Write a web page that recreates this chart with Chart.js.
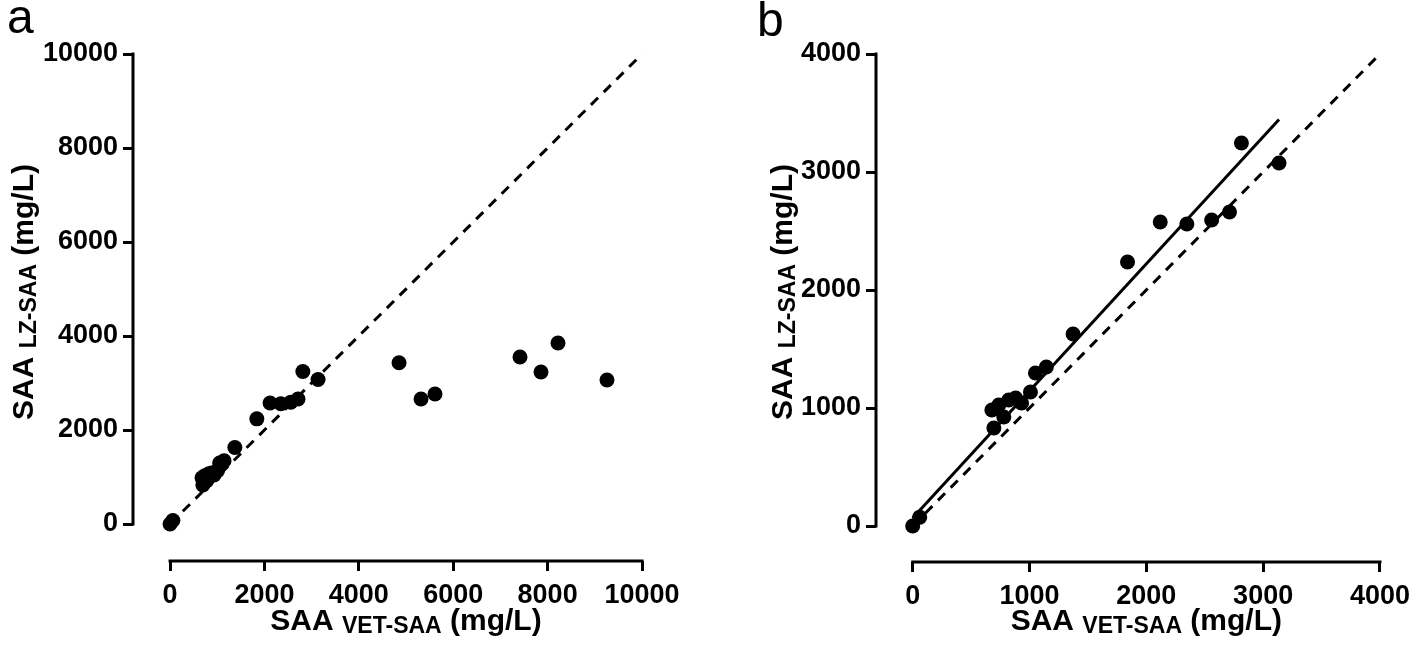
<!DOCTYPE html>
<html>
<head>
<meta charset="utf-8">
<script src="https://cdn.jsdelivr.net/npm/chart.js@4/dist/chart.umd.min.js"></script>
<style>
  html, body { margin: 0; padding: 0; background: #fff; }
  #wrap { position: relative; width: 1418px; height: 657px; }
  canvas { position: absolute; top: 0; }
  #chartA { left: 0; }
  #chartB { left: 709px; }
</style>
</head>
<body>
<div id="wrap">
  <canvas id="chartA" width="709" height="657"></canvas>
  <canvas id="chartB" width="709" height="657"></canvas>
</div>
<script>
// ═══════════════════════════════════════════════════════════════
//  DATA
// ═══════════════════════════════════════════════════════════════

const vetSaa = [0, 60, 695, 678, 737, 780, 822, 881, 932, 1008, 1051, 1144, 1373, 1839, 2119, 2347, 2559, 2712, 2814, 3136,
                4852, 5318, 5614, 7415, 7860, 8220, 9258];
const lzSaa  = [0, 75, 831, 983, 1025, 924, 1068, 1085, 1042, 1136, 1297, 1347, 1627, 2237, 2576, 2559, 2593, 2661, 3246, 3076,
                3430, 2660, 2766, 3553, 3234, 3851, 3064];

// panel b only shows the low range
const rangeB = 3500;

// regression line (panel b)
const fitX = [0, 3136];
const fitY = [67, 3445];

// line of identity
const identityA = [0, 10000];
const identityB = [0, 4000];

// tick labels
const ticksA = [0, 2000, 4000, 6000, 8000, 10000];
const ticksB = [0, 1000, 2000, 3000, 4000];

// ═══════════════════════════════════════════════════════════════
//  STYLE
// ═══════════════════════════════════════════════════════════════

const FONT = '"Liberation Sans", Arial, Helvetica, sans-serif';
const INK  = '#000';

function pts(xs, ys) { return xs.map((x, i) => ({ x, y: ys[i] })); }

// Prism-style detached axes, titles with subscripts, panel letters
const prismDecor = {
  id: 'prismDecor',
  afterDraw(chart, args, opts) {
    const { ctx, chartArea, scales } = chart;
    const sx = scales.x, sy = scales.y;
    ctx.save();
    ctx.strokeStyle = INK;
    ctx.lineWidth = 3;
    ctx.lineCap = 'square';
    ctx.beginPath();
    ctx.moveTo(sx.getPixelForValue(0), chartArea.bottom);
    ctx.lineTo(sx.getPixelForValue(sx.max), chartArea.bottom);
    ctx.moveTo(chartArea.left, sy.getPixelForValue(0));
    ctx.lineTo(chartArea.left, sy.getPixelForValue(sy.max));
    ctx.stroke();

    ctx.fillStyle = INK;
    // x title
    const cx = (sx.getPixelForValue(0) + sx.getPixelForValue(sx.max)) / 2;
    drawTitle(ctx, opts.xSub, cx, opts.xBase);
    // y title
    ctx.save();
    ctx.translate(opts.yBase, opts.yMid);
    ctx.rotate(-Math.PI / 2);
    drawTitle(ctx, opts.ySub, 0, 0);
    ctx.restore();

    // panel letter
    ctx.font = '48px ' + FONT;
    ctx.textAlign = 'left';
    ctx.textBaseline = 'alphabetic';
    ctx.fillText(opts.letter, opts.letterX, opts.letterY);
    ctx.restore();
  }
};

function drawTitle(ctx, sub, cx, base) {
  const parts = [
    { t: 'SAA ', f: 'bold 30px ' + FONT, dy: 0 },
    { t: sub,    f: 'bold 23px ' + FONT, dy: 3 },
    { t: ' (mg/L)', f: 'bold 30px ' + FONT, dy: 0 },
  ];
  let total = 0;
  parts.forEach(p => { ctx.font = p.f; p.w = ctx.measureText(p.t).width; total += p.w; });
  let x = cx - total / 2;
  ctx.textAlign = 'left';
  ctx.textBaseline = 'alphabetic';
  parts.forEach(p => { ctx.font = p.f; ctx.fillText(p.t, x, base + p.dy); x += p.w; });
}

function axis(min, max, tickVals, fit) {
  return {
    type: 'linear', min, max,
    border: { display: false },
    grid: { display: true, drawOnChartArea: false, drawTicks: true, tickLength: 10, color: INK, lineWidth: 3 },
    ticks: { color: INK, padding: fit.pad, font: { family: FONT, weight: 'bold', size: 27 }, callback: v => String(v) },
    afterBuildTicks: s => { s.ticks = tickVals.map(v => ({ value: v })); },
    afterFit: s => { if (fit.w) s.width = fit.w; if (fit.h) s.height = fit.h; },
  };
}

function makeChart(id, cfg) {
  return new Chart(document.getElementById(id), {
    type: 'scatter',
    data: { datasets: cfg.datasets },
    options: {
      responsive: false, animation: false, devicePixelRatio: 1,
      layout: { padding: cfg.padding },
      plugins: { legend: { display: false }, tooltip: { enabled: false }, prismDecor: cfg.decor },
      scales: { x: cfg.x, y: cfg.y },
    },
    plugins: [prismDecor],
  });
}

const dotStyle  = { pointRadius: 7.5, pointBackgroundColor: INK, pointBorderWidth: 0, showLine: false, clip: false };
const dashStyle = { showLine: true, pointRadius: 0, borderColor: INK, borderWidth: 3, borderDash: [10, 8], clip: false };

// ═══════════════════════════════════════════════════════════════
//  PANEL a — full range
// ═══════════════════════════════════════════════════════════════

makeChart('chartA', {
  datasets: [
    { data: pts(vetSaa, lzSaa), ...dotStyle },
    { data: pts(identityA, identityA), ...dashStyle },
  ],
  padding: { left: 0, right: 67, top: 54, bottom: 0 },
  x: axis(-785, 10000, ticksA, { h: 96, pad: 8 }),
  y: axis(-787, 10000, ticksA, { w: 133, pad: 5 }),
  decor: { xSub: 'VET-SAA', ySub: 'LZ-SAA', xBase: 630, yBase: 33, yMid: 292, letter: 'a', letterX: 7, letterY: 33 },
});

// ═══════════════════════════════════════════════════════════════
//  PANEL b — low range with regression
// ═══════════════════════════════════════════════════════════════

const lowX = vetSaa.filter(v => v < rangeB);
const lowY = lzSaa.filter((v, i) => vetSaa[i] < rangeB);

makeChart('chartB', {
  datasets: [
    { data: pts(lowX, lowY), ...dotStyle },
    { data: pts(fitX, fitY), showLine: true, pointRadius: 0, borderColor: INK, borderWidth: 3, clip: false },
    { data: pts(identityB, identityB), ...dashStyle },
  ],
  padding: { left: 0, right: 33, top: 54, bottom: 0 },
  x: axis(-314, 4000, ticksB, { h: 95, pad: 8 }),
  y: axis(-305, 4000, ticksB, { w: 167, pad: 5 }),
  decor: { xSub: 'VET-SAA', ySub: 'LZ-SAA', xBase: 630, yBase: 83, yMid: 292, letter: 'b', letterX: 48, letterY: 36 },
});
</script>
</body>
</html>
